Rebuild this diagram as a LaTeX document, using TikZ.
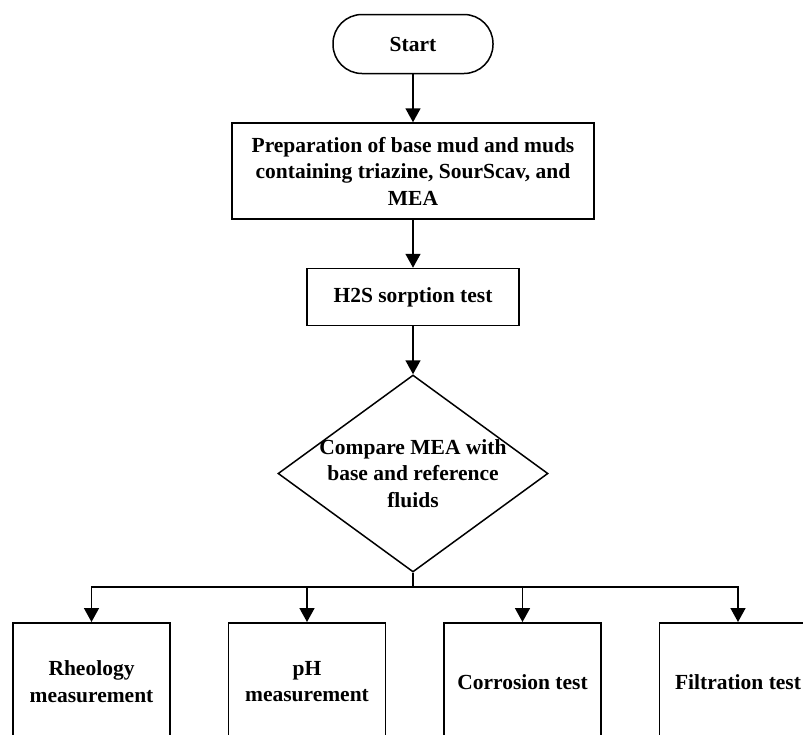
\documentclass[tikz,border=0pt]{standalone}
\usepackage{fontspec}
\setmainfont{Liberation Serif}
\usetikzlibrary{arrows.meta,positioning,shapes.geometric}
\tikzset{
  procbox/.style={
    draw=black,
    line width=1.5pt,
    align=center,
    inner sep=2pt,
    font=\bfseries\fontsize{21.5}{26.5}\selectfont
  },
  termbox/.style={procbox, rounded corners=29pt, minimum width=160pt, minimum height=59pt},
  decbox/.style={draw=black, line width=1.5pt, diamond, minimum width=270pt, minimum height=197pt, inner sep=0pt},
  testbox/.style={procbox, minimum width=157pt, minimum height=118pt},
  line/.style={-{Triangle[length=14pt,width=15pt]}, line width=1.6pt}
}

\begin{document}
\begin{tikzpicture}[node distance=48pt]
  \path[use as bounding box, clip] (0,0) rectangle (803pt,-734pt);
  \node[termbox] (start) at (413pt,-44pt) {Start};
  \node[procbox, below=48pt of start, minimum width=362pt, minimum height=96pt] (prep) {Preparation of base mud and muds\\containing triazine, SourScav, and\\MEA};
  \node[procbox, below=of prep, minimum width=212pt, minimum height=57pt] (sorp) {H2S sorption test};
  \node[decbox, below=48pt of sorp] (cmp) {};
  \node[procbox, draw=none] (cmptext) at (cmp.center) {Compare MEA with\\base and reference\\fluids};
  \coordinate[below=14pt of cmp] (split);
  \node[testbox, anchor=north] (rheo) at (91.5pt,-622pt) {Rheology\\measurement};
  \node[testbox, right=57pt of rheo] (ph) {pH\\measurement};
  \node[testbox, right=57pt of ph] (corr) {Corrosion test};
  \node[testbox, right=57pt of corr] (filt) {Filtration test};
  \draw[line] (start) -- (prep);
  \draw[line] (prep) -- (sorp);
  \draw[line] (sorp) -- (cmp);
  \draw[line width=1.6pt] (cmp.south) -- (split);
  \foreach \t in {rheo,ph,corr,filt}
    \draw[line] (split) -| (\t.north);
\end{tikzpicture}
\end{document}
